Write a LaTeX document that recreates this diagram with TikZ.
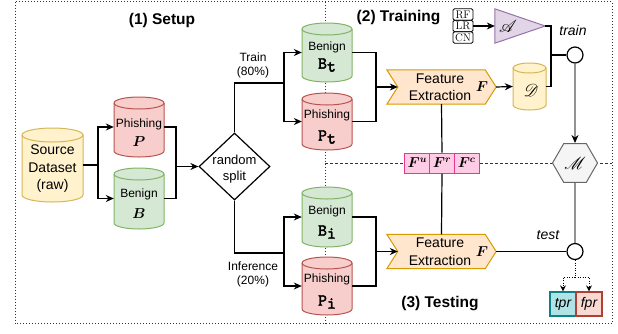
\documentclass[tikz,border=0pt]{standalone}
\usepackage{fontspec}
\setsansfont{Liberation Sans}
\renewcommand\familydefault{\sfdefault}
\newfontfamily\monob[FakeBold=2.2]{lmmono10-regular.otf}
\usepackage{amsmath,bm,mathrsfs}
\usetikzlibrary{arrows.meta,calc,shapes.geometric}
\definecolor{yelF}{HTML}{FFF2CC}\definecolor{yelS}{HTML}{D6B656}
\definecolor{redF}{HTML}{F8CECC}\definecolor{redS}{HTML}{B85450}
\definecolor{grnF}{HTML}{D5E8D4}\definecolor{grnS}{HTML}{82B366}
\definecolor{orgF}{HTML}{FFE6CC}\definecolor{orgS}{HTML}{D79B00}
\definecolor{purF}{HTML}{E1D5E7}\definecolor{purS}{HTML}{9673A6}
\definecolor{hexF}{HTML}{F5F5F5}\definecolor{hexS}{HTML}{666666}
\definecolor{tprF}{HTML}{B0E3E6}\definecolor{tprS}{HTML}{0E8088}
\definecolor{fprF}{HTML}{FAD9D5}\definecolor{fprS}{HTML}{AE4132}
\definecolor{pnkF}{HTML}{FFCCE6}\definecolor{pnkS}{HTML}{E6388F}
\definecolor{midgray}{HTML}{595959}
\definecolor{bordc}{HTML}{333333}

\newcommand\mkcyl[8]{% name cx cy hw hh ry fill stroke
 \node[inner sep=0pt,minimum width=2*#4,minimum height=2*#5] (#1) at (#2,-#3) {};
 \filldraw[fill=#7,draw=#8,line width=1pt] (#2-#4,-#3+#5-#6) -- (#2-#4,-#3-#5+#6)
   arc[start angle=180,end angle=360,x radius=#4,y radius=#6] -- (#2+#4,-#3+#5-#6)
   arc[start angle=0,end angle=180,x radius=#4,y radius=#6] -- cycle;
 \draw[draw=#8,line width=1pt] (#2-#4,-#3+#5-#6) arc[start angle=180,end angle=360,x radius=#4,y radius=#6];
}
\newcommand\mkfe[3]{% name cx cy
 \node[inner sep=0pt,minimum width=109,minimum height=34] (#1) at (#2,-#3) {};
 \filldraw[fill=orgF,draw=orgS,line width=1pt] (#1.north west) -- ($(#1.north east)+(-11,0)$) -- (#1.east)
   -- ($(#1.south east)+(-11,0)$) -- (#1.south west) -- ($(#1.west)+(11,0)$) -- cycle;
 \coordinate (#1in) at ($(#1.west)+(11,0)$);
}

\tikzset{
 x=1pt,y=1pt,
 ln/.style={line width=1.2pt,black},
 arr/.style={ln,-{Stealth[length=8pt,width=7pt]}},
 gln/.style={line width=1.2pt,midgray},
 garr/.style={gln,-{Stealth[length=8pt,width=7pt,color=black]}},
 dotln/.style={line width=1pt,bordc,dash pattern=on 1pt off 2pt},
 dashln/.style={line width=1pt,bordc,dash pattern=on 2.5pt off 2.5pt},
 dotarr/.style={line width=1pt,black,dash pattern=on 1pt off 1.5pt,-{Stealth[length=6pt,width=6pt]}},
 txt/.style={inner sep=0pt,align=center},
 t12/.style={txt,font=\fontsize{12}{14}\selectfont},
 t13/.style={txt,font=\fontsize{13}{16}\selectfont},
 t14/.style={txt,font=\fontsize{14}{17.5}\selectfont},
 scr/.style={txt,font=\fontsize{18}{20}\selectfont},
 ttl/.style={txt,font=\fontsize{15.5}{18}\selectfont\bfseries},
 mono/.style={txt,font=\fontsize{17}{18}\selectfont\monob},
 ser/.style={inner sep=0pt,font=\fontsize{11}{12}\rmfamily\selectfont,draw=black,line width=0.8pt,rounded corners=1.5pt,minimum width=20,minimum height=11.5},
}

\begin{document}
\begin{tikzpicture}
\useasboundingbox (0,0) rectangle (618,-333);

% region borders
\draw[dotln] (15,-1.5) rectangle (612,-323.5);
\draw[dotln] (325,-1.5) -- (325,-323.5);
\draw[dashln] (325,-163) -- (612,-163);

% titles
\node[ttl] (t1) at (162,-20) {(1) Setup};
\node[ttl] (t2) at (398.5,-18) {(2) Training};
\node[ttl] (t3) at (440,-304) {(3) Testing};

% setup
\mkcyl{src}{52.5}{165}{30.5}{37}{7}{yelF}{yelS}
\node[t14] (srct) at (52.5,-169) {Source\\Dataset\\(raw)};
\mkcyl{P}{139}{127}{25}{30}{6}{redF}{redS}
\node[t12] (Pt1) at (139,-124) {Phishing};
\node[txt,font=\fontsize{15}{16}\selectfont] (Pt2) at (139,-142) {$\bm{P}$};
\mkcyl{B}{139}{198.5}{25}{30.5}{6}{grnF}{grnS}
\node[t12] (Bt1) at (139,-194) {Benign};
\node[txt,font=\fontsize{15}{16}\selectfont] (Bt2) at (139,-214) {$\bm{B}$};

\node[diamond,draw=black,line width=1.2pt,fill=white,inner sep=0pt,minimum width=71,minimum height=67] (split) at (234.5,-166.5) {};
\node[t13] (splitt) at (234.5,-169) {random\\split};
\node[t12] (trl) at (253,-65) {Train\\(80\%)};
\node[t12] (infl) at (253,-274) {Inference\\(20\%)};

% split cylinders
\mkcyl{Bt}{327}{52.5}{25}{29.5}{6}{grnF}{grnS}
\node[t12] (Btt1) at (327,-47) {Benign};
\node[mono] (Btt2) at (327,-65) {B\raisebox{-3pt}{t}};
\mkcyl{Pt}{327}{121.5}{25}{28.5}{6}{redF}{redS}
\node[t12] (Ptt1) at (327,-115) {Phishing};
\node[mono] (Ptt2) at (327,-137) {P\raisebox{-3pt}{t}};
\mkcyl{Bi}{327}{217}{25}{30}{6}{grnF}{grnS}
\node[t12] (Bit1) at (327,-211) {Benign};
\node[mono] (Bit2) at (327,-232) {B\raisebox{-3pt}{i}};
\mkcyl{Pi}{327}{286}{25}{29}{6}{redF}{redS}
\node[t12] (Pit1) at (327,-279) {Phishing};
\node[mono] (Pit2) at (327,-302) {P\raisebox{-3pt}{i}};

% feature extraction
\mkfe{FEa}{441.5}{87}
\node[t14] (FEat) at (440,-87) {Feature\\Extraction};
\node[txt,font=\fontsize{15}{16}\selectfont] (FEaf) at (482,-87) {$\bm{F}$};
\mkfe{FEb}{441.5}{251.5}
\node[t14] (FEbt) at (440,-251.5) {Feature\\Extraction};
\node[txt,font=\fontsize{15}{16}\selectfont] (FEbf) at (482,-251.5) {$\bm{F}$};

% feature sets
\node[draw=pnkS,fill=pnkF,line width=1pt,inner sep=0pt,minimum width=24.67,minimum height=20,font=\fontsize{14}{16}\selectfont] (Fu) at (417.3,-163) {$\bm{F}^{\bm{u}}$};
\node[draw=pnkS,fill=pnkF,line width=1pt,inner sep=0pt,minimum width=24.67,minimum height=20,font=\fontsize{14}{16}\selectfont] (Fr) at (442,-163) {$\bm{F}^{\bm{r}}$};
\node[draw=pnkS,fill=pnkF,line width=1pt,inner sep=0pt,minimum width=24.67,minimum height=20,font=\fontsize{14}{16}\selectfont] (Fc) at (466.7,-163) {$\bm{F}^{\bm{c}}$};

% dataset D
\mkcyl{D}{529.5}{86.5}{16.5}{23.5}{5}{yelF}{yelS}
\node[scr] (Dt) at (531,-90) {$\mathscr{D}$};

% algorithms
\node[ser] (RF) at (463,-14.5) {RF};
\node[ser] (LR) at (463,-26) {LR};
\node[ser] (CN) at (463,-37.5) {CN};
\node[inner sep=0pt,minimum width=50,minimum height=34] (A) at (520,-26) {};
\filldraw[fill=purF,draw=purS,line width=1pt] (A.north west) -- (A.east) -- (A.south west) -- cycle;
\node[scr] (At) at (508,-26) {$\mathscr{A}$};

% model and junctions
\node[circle,draw=black,fill=white,line width=1.2pt,inner sep=0pt,minimum size=16] (ctrain) at (575,-55) {};
\node[circle,draw=black,fill=white,line width=1.2pt,inner sep=0pt,minimum size=16] (ctest) at (575,-251.5) {};
\node[regular polygon,regular polygon sides=6,draw=hexS,fill=hexF,line width=1pt,inner sep=0pt,minimum size=45,font=\fontsize{18}{20}\selectfont] (M) at (575,-163) {$\mathscr{M}$};
\node[txt,font=\fontsize{14}{16}\selectfont\itshape] (trainl) at (573,-30) {train};
\node[txt,font=\fontsize{14}{16}\selectfont\itshape] (testl) at (548,-235) {test};

\node[draw=tprS,fill=tprF,line width=1.2pt,inner sep=0pt,minimum width=26,minimum height=24,font=\fontsize{14}{16}\selectfont\itshape] (tpr) at (563,-304) {tpr};
\node[draw=fprS,fill=fprF,line width=1.2pt,inner sep=0pt,minimum width=26,minimum height=24,font=\fontsize{14}{16}\selectfont\itshape] (fpr) at (589,-304) {fpr};

% connectors: setup
\coordinate (jS) at (98,-165);
\draw[ln] (src.east) -- (jS);
\draw[arr] (jS) |- (P.west);
\draw[arr] (jS) |- (B.west);
\coordinate (jS2) at (176,-166.5);
\draw[ln] (P.east) -| (jS2);
\draw[ln] (B.east) -| (jS2);
\draw[arr] (jS2) -- (split.west);
\coordinate (jT) at (284,-83);
\draw[ln] (split.north) |- (jT);
\draw[arr] (jT) |- (Bt.west);
\draw[arr] (jT) |- (Pt.west);
\coordinate (jI) at (284,-253);
\draw[ln] (split.south) |- (jI);
\draw[arr] (jI) |- (Bi.west);
\draw[arr] (jI) |- (Pi.west);

% training
\coordinate (jF1) at (376,-87);
\draw[ln] (Bt.east) -| (jF1);
\draw[ln] (Pt.east) -| (jF1);
\draw[arr] (jF1) -- (FEain);
\draw[arr] (FEa.east) -- (D.west);
\draw[arr] (LR.east) -- (A.west);
\coordinate (jA) at (551,-26);
\draw[ln] (A.east) -- (jA) |- (D.east);
\draw[ln] (ctrain.west) -- (ctrain.west -| jA);
\draw[garr] (ctrain.south) -- (M.north);
\draw[ln] (FEa.south) -- (Fr.north);
\draw[ln] (Fr.south) -- (FEb.north);

% testing
\coordinate (jF2) at (376,-251.5);
\draw[ln] (Bi.east) -| (jF2);
\draw[ln] (Pi.east) -| (jF2);
\draw[arr] (jF2) -- (FEbin);
\draw[gln] (M.south) -- (ctest.north);
\draw[ln] (FEb.east) -- (ctest.west);
\coordinate (jt) at (575,-277);
\draw[line width=1pt,black,dash pattern=on 1pt off 1.5pt] (ctest.south) -- (jt);
\draw[dotarr] (jt) -| (tpr.north);
\draw[dotarr] (jt) -| (fpr.north);
\end{tikzpicture}
\end{document}
